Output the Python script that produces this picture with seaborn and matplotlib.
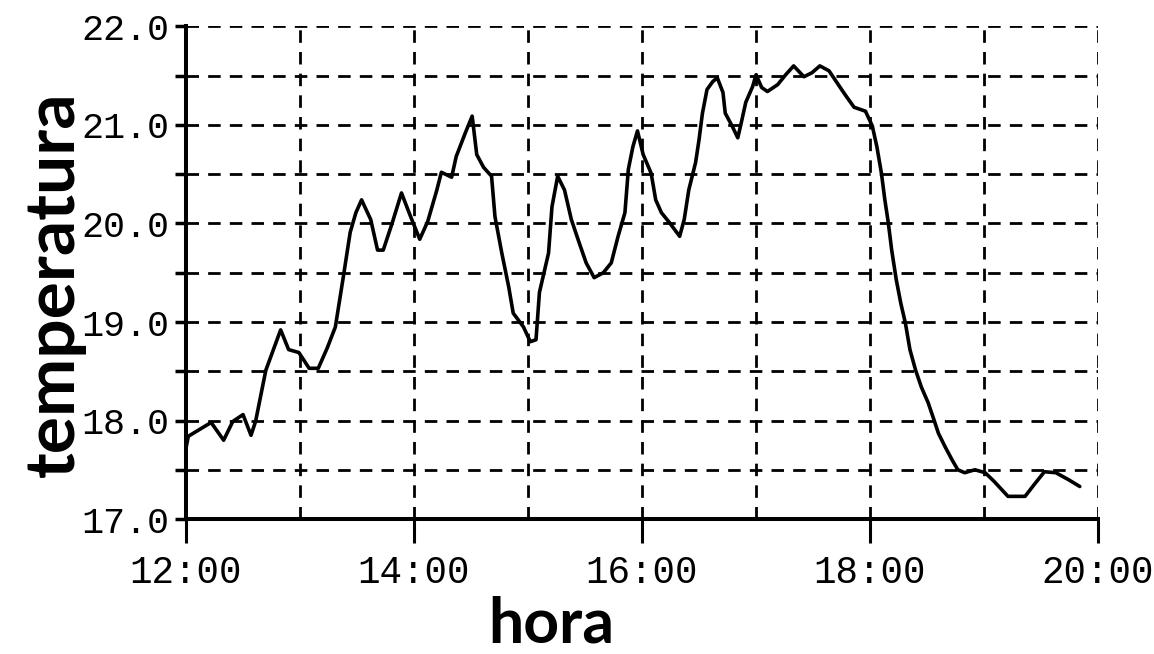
import matplotlib
matplotlib.use("Agg")
import matplotlib.pyplot as plt
import seaborn as sns
import pandas as pd
from matplotlib.ticker import MultipleLocator, FixedLocator

# ---- data ----
hours = [12.00, 12.02, 12.22, 12.33, 12.41, 12.50, 12.57, 12.61, 12.70, 12.83,
         12.90, 12.99, 13.08, 13.16, 13.24, 13.31, 13.38, 13.44, 13.49, 13.54,
         13.62, 13.68, 13.73, 13.81, 13.89, 13.97, 14.05, 14.12, 14.20, 14.24,
         14.33, 14.37, 14.45, 14.51, 14.55, 14.61, 14.68, 14.71, 14.77, 14.83,
         14.87, 14.96, 15.02, 15.07, 15.10, 15.18, 15.21, 15.26, 15.32, 15.38,
         15.45, 15.51, 15.58, 15.66, 15.73, 15.79, 15.85, 15.88, 15.92, 15.96,
         16.01, 16.08, 16.12, 16.17, 16.24, 16.33, 16.37, 16.41, 16.47, 16.50,
         16.53, 16.57, 16.62, 16.66, 16.71, 16.73, 16.79, 16.84, 16.87, 16.91,
         16.97, 17.00, 17.05, 17.10, 17.19, 17.26, 17.33, 17.42, 17.49, 17.56,
         17.64, 17.71, 17.78, 17.86, 17.96, 18.02, 18.06, 18.10, 18.13, 18.16,
         18.19, 18.23, 18.27, 18.31, 18.35, 18.40, 18.45, 18.51, 18.56, 18.60,
         18.66, 18.72, 18.77, 18.83, 18.92, 19.01, 19.09, 19.21, 19.36, 19.44,
         19.53, 19.63, 19.74, 19.84]
temps = [17.72, 17.84, 17.98, 17.80, 17.99, 18.06, 17.85, 17.99, 18.51, 18.92,
         18.72, 18.69, 18.53, 18.53, 18.74, 18.95, 19.46, 19.91, 20.11, 20.24,
         20.04, 19.73, 19.73, 20.01, 20.31, 20.07, 19.84, 20.02, 20.34, 20.52,
         20.47, 20.68, 20.92, 21.09, 20.70, 20.57, 20.48, 20.07, 19.70, 19.36,
         19.09, 18.95, 18.80, 18.82, 19.30, 19.70, 20.17, 20.48, 20.34, 20.04,
         19.80, 19.60, 19.45, 19.50, 19.60, 19.87, 20.11, 20.55, 20.78, 20.94,
         20.70, 20.51, 20.24, 20.11, 20.01, 19.87, 20.04, 20.34, 20.62, 20.85,
         21.12, 21.36, 21.44, 21.48, 21.33, 21.12, 20.99, 20.87, 21.02, 21.23,
         21.39, 21.51, 21.38, 21.34, 21.41, 21.51, 21.60, 21.49, 21.53, 21.60,
         21.55, 21.43, 21.31, 21.18, 21.14, 20.99, 20.78, 20.51, 20.24, 20.01,
         19.73, 19.43, 19.19, 18.99, 18.72, 18.51, 18.34, 18.18, 18.01, 17.87,
         17.73, 17.60, 17.50, 17.47, 17.50, 17.47, 17.38, 17.23, 17.23, 17.35,
         17.48, 17.47, 17.40, 17.33]

x_tick_values = [12, 14, 16, 18, 20]
x_tick_labels = ["12:00", "14:00", "16:00", "18:00", "20:00"]
y_tick_values = [17, 18, 19, 20, 21, 22]
y_tick_labels = ["17.0", "18.0", "19.0", "20.0", "21.0", "22.0"]
x_label = "hora"
y_label = "temperatura"

df = pd.DataFrame({"hora": hours, "temperatura": temps})

sns.set_style("white")

fig = plt.figure(figsize=(11.54, 6.54), dpi=100)
ax = fig.add_axes([0.1612, 0.2064, 0.7903, 0.7531])

sns.lineplot(data=df, x="hora", y="temperatura", color="black",
             linewidth=2.6, ax=ax, sort=False)

ax.set_xlim(12, 20)
ax.set_ylim(17, 22)

ax.xaxis.set_major_locator(FixedLocator(x_tick_values))
ax.set_xticklabels(x_tick_labels)
ax.xaxis.set_minor_locator(MultipleLocator(1))
ax.yaxis.set_major_locator(FixedLocator(y_tick_values))
ax.set_yticklabels(y_tick_labels)
ax.yaxis.set_minor_locator(MultipleLocator(0.5))

ax.set_axisbelow(True)
ax.grid(which="both", color="black", linestyle=(0, (4.5, 3.3)), linewidth=2.0)

for side in ("top", "right"):
    ax.spines[side].set_visible(False)
for side in ("left", "bottom"):
    ax.spines[side].set_color("black")
    ax.spines[side].set_linewidth(2.9)

ax.tick_params(axis="y", which="both", direction="out", length=8, width=2.5,
               color="black", left=True, pad=4)
ax.tick_params(axis="x", which="major", direction="out", length=17, width=2.2,
               color="black", bottom=True, pad=9)
ax.tick_params(axis="x", which="minor", length=0)

for lab in ax.get_yticklabels():
    lab.set_fontfamily("Liberation Mono")
    lab.set_fontsize(26.5)
    lab.set_color("black")
for lab in ax.get_xticklabels():
    lab.set_fontfamily("Liberation Mono")
    lab.set_fontsize(27)
    lab.set_color("black")

ax.set_xlabel(x_label, fontfamily="Lato", fontweight="bold", fontsize=45,
              color="black")
ax.xaxis.set_label_coords(0.401, -0.251)
ax.xaxis.label.set_va("baseline")

ax.set_ylabel(y_label, fontfamily="Lato", fontweight="bold", fontsize=50,
              color="black")
ax.yaxis.label.set_va("center")
ax.yaxis.set_label_coords(-0.144, 0.476)

fig.savefig("out.png", dpi=100, facecolor="white")
